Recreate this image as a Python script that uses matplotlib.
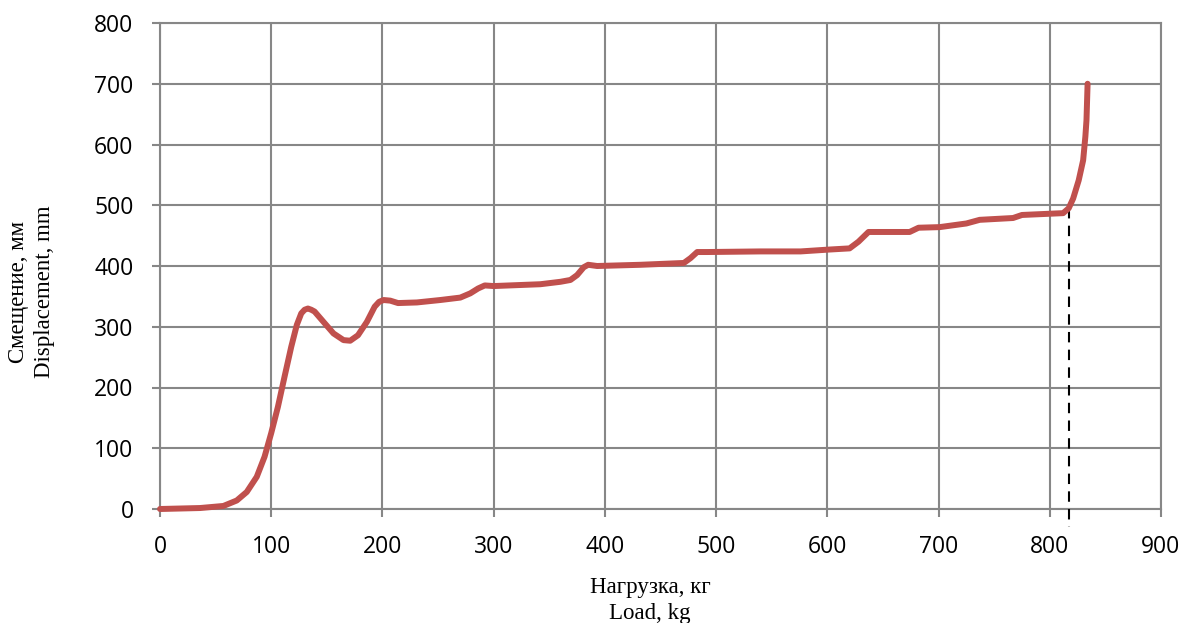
import matplotlib
matplotlib.use("Agg")
import matplotlib.pyplot as plt

load_kg = [0, 36, 57, 69, 78, 87, 94, 100, 106, 112, 118, 123, 127, 130, 133, 136, 139, 147, 156, 165, 171,
           178, 186, 193, 197, 201, 207, 214, 231, 252, 270, 279, 286, 292, 300, 342, 360, 369, 375, 381,
           385, 393, 432, 471, 477, 483, 492, 540, 576, 601, 620, 628, 637, 674, 682, 701, 725, 737,
           767, 775, 812, 817, 821, 826, 830, 832, 833, 834]
displacement_mm = [0, 1.6, 5, 14, 28, 53, 86, 125, 168, 218, 267, 303, 322, 328, 330, 328, 325, 308, 289, 278, 277,
                   286, 308, 333, 341, 344, 343, 339, 340, 344, 348, 355, 363, 368, 367, 370, 374, 377, 385, 398,
                   402, 400, 402, 405, 413, 423, 423, 424, 424, 427, 429, 440, 456, 456, 463, 464, 470, 476,
                   479, 484, 487, 495, 511, 541, 574, 613, 640, 700]
failure_load = 817.5
failure_disp = 495

x_ticks = [0, 100, 200, 300, 400, 500, 600, 700, 800, 900]
y_ticks = [0, 100, 200, 300, 400, 500, 600, 700, 800]

fig = plt.figure(figsize=(11.83, 6.23), dpi=100)
ax = fig.add_axes([160/1183, 1-509/623, (1161-160)/1183, (509-23)/623])

grid_c = "#878787"
ax.set_xlim(0, 900)
ax.set_ylim(0, 800)
ax.set_xticks(x_ticks)
ax.set_yticks(y_ticks)
ax.grid(True, color=grid_c, linewidth=1.5)
ax.set_axisbelow(True)
for s in ax.spines.values():
    s.set_color(grid_c)
    s.set_linewidth(1.5)
ax.tick_params(axis="both", color=grid_c, width=1.5, length=6)
ax.tick_params(axis="y", pad=13)
ax.tick_params(axis="x", pad=13)
for lab in ax.get_xticklabels() + ax.get_yticklabels():
    lab.set_fontfamily("Open Sans")
    lab.set_fontsize(16.5)

ax.plot([failure_load, failure_load], [failure_disp, -30], color="black", linewidth=1.5,
        linestyle=(0, (5, 3.5)), clip_on=False, zorder=3)
ax.plot(load_kg, displacement_mm, color="#C0504D", linewidth=4.3, solid_capstyle="round",
        solid_joinstyle="round", zorder=4, clip_on=False)

fig.text(650/1183, 1-587/623, "Нагрузка, кг", family="Liberation Serif", fontsize=16.5,
         ha="center", va="center")
fig.text(650/1183, 1-613/623, "Load, kg", family="Liberation Serif", fontsize=16.5,
         ha="center", va="center")
fig.text(19/1183, 1-292/623, "Смещение, мм", family="Liberation Serif", fontsize=16.5,
         ha="center", va="center", rotation=90)
fig.text(45/1183, 1-292/623, "Displacement, mm", family="Liberation Serif", fontsize=16.5,
         ha="center", va="center", rotation=90)

fig.savefig("out.png", dpi=100)
